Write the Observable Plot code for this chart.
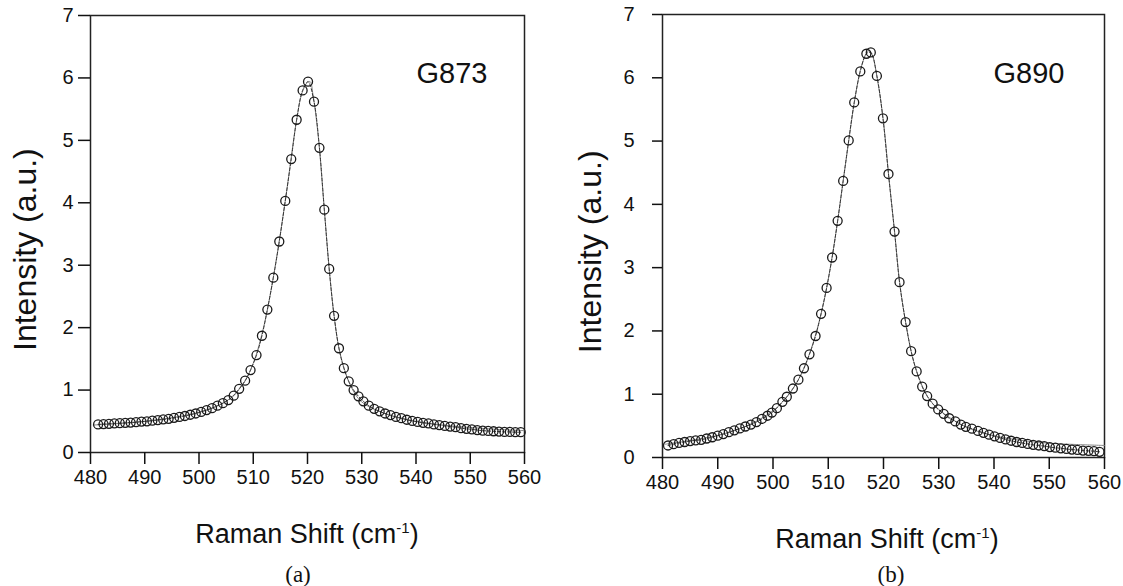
<!DOCTYPE html>
<html><head><meta charset="utf-8">
<script src="https://cdn.jsdelivr.net/npm/d3@7"></script>
<script src="https://cdn.jsdelivr.net/npm/@observablehq/plot@0.6"></script>
<style>
html,body{margin:0;padding:0;background:#fff;}
#wrap{position:relative;width:1123px;height:586px;overflow:hidden;font-family:"Liberation Sans",Arial,Helvetica,sans-serif;color:#111;background:#fff;}
.panel{position:absolute;top:0;}
#wrap svg [aria-label$="tick label"] text, #wrap svg [aria-label$="tick label"]{font-size:20px !important;}
.xlab{position:absolute;font-size:27px;line-height:27px;white-space:nowrap;transform:translateX(-50%);}
.xlab sup{font-size:15px;vertical-align:10px;line-height:0;}
.cap{position:absolute;font-family:"Liberation Serif","Times New Roman",serif;font-size:23px;line-height:23px;transform:translateX(-50%);}
</style></head><body><div id="wrap"></div>
<script>
const xTicks = [480, 490, 500, 510, 520, 530, 540, 550, 560];
const yTicks = [0, 1, 2, 3, 4, 5, 6, 7];
const sampleNames = ["G873", "G890"];
const panelLetters = ["(a)", "(b)"];
const yTitle = "Intensity (a.u.)";

// G873 measured points
const g873Shift = [481.4,482.4,483.4,484.4,485.4,486.4,487.4,488.4,489.4,490.4,491.4,492.4,493.4,494.4,495.4,496.4,497.4,498.4,499.4,500.4,501.4,502.4,503.4,504.4,505.4,506.4,
  507.4,508.5,509.5,510.6,511.6,512.6,513.7,514.8,515.9,517.0,518.0,519.1,520.1,521.2,522.2,523.1,524.0,524.9,525.8,526.7,527.6,528.5,529.4,530.3,531.3,
  532.3,533.3,534.3,535.3,536.3,537.3,538.3,539.3,540.3,541.3,542.3,543.3,544.3,545.3,546.3,547.3,548.3,549.3,550.3,551.3,552.3,553.3,554.3,555.3,556.3,557.3,558.3,559.3];
const g873Intensity = [0.45,0.455,0.46,0.465,0.47,0.475,0.48,0.485,0.495,0.50,0.51,0.52,0.53,0.54,0.555,0.57,0.585,0.605,0.625,0.65,0.68,0.71,0.75,0.79,0.84,0.91,
  1.02,1.15,1.32,1.56,1.87,2.29,2.80,3.38,4.03,4.70,5.33,5.80,5.94,5.62,4.88,3.89,2.94,2.19,1.67,1.35,1.14,1.00,0.90,0.82,0.75,
  0.70,0.66,0.625,0.60,0.57,0.55,0.525,0.505,0.49,0.475,0.465,0.45,0.44,0.425,0.415,0.405,0.39,0.38,0.37,0.36,0.35,0.345,0.34,0.335,0.33,0.33,0.325,0.325];
// G873 fitted curve
const g873FitShift = [480.5,490,500,505,508,510,512,514,516,518,519,520,520.5,521,522,523,524,525,526,528,530,535,540,545,550,555,560];
const g873FitIntensity = [0.44,0.50,0.645,0.82,1.08,1.43,2.04,2.96,4.09,5.33,5.76,5.93,5.94,5.74,5.05,4.00,2.94,2.12,1.59,1.06,0.81,0.60,0.50,0.44,0.40,0.37,0.35];

// G890 measured points
const g890Shift = [481.0,482.0,483.0,484.0,485.0,486.0,487.0,488.0,489.0,490.0,491.0,492.0,493.0,494.0,495.0,496.0,497.0,498.0,499.0,499.8,500.7,501.7,502.5,503.6,504.6,505.6,506.6,507.7,508.7,509.7,510.7,511.7,512.7,513.7,514.7,515.8,516.9,517.7,518.8,519.9,520.9,522.0,522.9,524.0,525.0,526.0,527.0,527.9,528.9,529.9,530.9,531.9,533.0,534.0,534.9,536.0,537.1,538.1,539.1,540.1,541.1,542.1,543.1,544.1,545.1,546.1,547.1,548.1,549.1,550.1,551.1,552.1,553.1,554.1,555.1,556.1,557.1,558.1,559.1];
const g890Intensity = [0.19,0.21,0.23,0.245,0.26,0.27,0.28,0.30,0.32,0.345,0.37,0.40,0.43,0.46,0.49,0.52,0.56,0.61,0.66,0.71,0.78,0.88,0.96,1.09,1.23,1.41,1.63,1.92,2.27,2.68,3.16,3.74,4.37,5.01,5.61,6.10,6.38,6.40,6.03,5.36,4.48,3.57,2.77,2.14,1.68,1.36,1.12,0.97,0.85,0.76,0.69,0.62,0.57,0.52,0.485,0.455,0.42,0.39,0.36,0.335,0.31,0.285,0.265,0.245,0.23,0.215,0.20,0.19,0.18,0.165,0.155,0.145,0.135,0.125,0.12,0.11,0.105,0.10,0.09];
// G890 fitted curve
const g890FitShift = [480.5,490,495,500,503,505,507,509,511,513,515,516,517,517.4,518,519,520,521,522,523,524,525,526,528,530,535,540,545,550,555,560];
const g890FitIntensity = [0.21,0.35,0.49,0.74,1.01,1.30,1.74,2.38,3.33,4.56,5.76,6.18,6.40,6.43,6.35,5.92,5.30,4.40,3.57,2.71,2.14,1.68,1.36,0.96,0.76,0.48,0.345,0.27,0.225,0.205,0.19];

const FONT = '"Liberation Sans", Arial, Helvetica, sans-serif';

function makePanel(o) {
  const pts = o.xs.map((x, i) => ({x, y: o.ys[i]}));
  const fit = o.fx.map((x, i) => ({x, y: o.fy[i]}));
  return Plot.plot({
    width: o.width, height: o.height,
    marginLeft: o.ml, marginRight: o.mr, marginTop: o.mt, marginBottom: o.mb,
    style: {fontFamily: FONT, fontSize: "20px", color: "#111", background: "#fff", overflow: "visible"},
    x: {domain: [480, 560]},
    y: {domain: [0, 7]},
    marks: [
      Plot.frame({stroke: "#222", strokeWidth: 1.5}),
      Plot.axisX({ticks: xTicks, tickSize: 12, tickPadding: 5, tickFormat: d => String(d), label: null, strokeWidth: 1.5, fontSize: 20}),
      Plot.axisY({ticks: yTicks, tickSize: o.tickSizeY, tickPadding: o.tickPadY, tickFormat: d => String(d), label: null, strokeWidth: 1.5, fontSize: 20}),
      Plot.line(fit, {x: "x", y: "y", stroke: "#888", strokeWidth: 1, curve: "catmull-rom"}),
      Plot.line(pts, {x: "x", y: "y", stroke: "#333", strokeWidth: 1, strokeDasharray: "3,2", curve: "catmull-rom"}),
      Plot.dot(pts, {x: "x", y: "y", r: 4.5, stroke: "#1a1a1a", strokeWidth: 1.3, fill: "none"}),
      Plot.text([o.name], {frameAnchor: "top-right", textAnchor: "end", lineAnchor: "middle", dx: o.nameDx, dy: o.nameDy, fontSize: 29, fill: "#111"}),
      Plot.text([yTitle], {y: 3.25, frameAnchor: "left", textAnchor: "middle", lineAnchor: "middle", rotate: -90, dx: o.yLabDx, fontSize: 32, fill: "#111"})
    ]
  });
}

const wrap = document.getElementById("wrap");
const panels = [
  {left: 0, width: 560, height: 500, ml: 90, mr: 36, mt: 15, mb: 48, tickSizeY: 12, tickPadY: 5,
   xs: g873Shift, ys: g873Intensity, fx: g873FitShift, fy: g873FitIntensity, name: sampleNames[0], nameDx: -37, nameDy: 58, yLabDx: -65,
   xlabX: 307, xlabY: 521, capX: 298, letter: panelLetters[0]},
  {left: 560, width: 563, height: 505, ml: 102, mr: 19, mt: 14, mb: 48, tickSizeY: 10, tickPadY: 18,
   xs: g890Shift, ys: g890Intensity, fx: g890FitShift, fy: g890FitIntensity, name: sampleNames[1], nameDx: -40, nameDy: 59, yLabDx: -72,
   xlabX: 887, xlabY: 526, capX: 891, letter: panelLetters[1]}
];
for (const p of panels) {
  const div = document.createElement("div");
  div.className = "panel";
  div.style.left = p.left + "px";
  div.appendChild(makePanel(p));
  wrap.appendChild(div);
  const xl = document.createElement("div");
  xl.className = "xlab";
  xl.style.left = p.xlabX + "px";
  xl.style.top = p.xlabY + "px";
  xl.innerHTML = "Raman Shift (cm<sup>-1</sup>)";
  wrap.appendChild(xl);
  const cap = document.createElement("div");
  cap.className = "cap";
  cap.style.left = p.capX + "px";
  cap.style.top = "563px";
  cap.textContent = p.letter;
  wrap.appendChild(cap);
}
</script></body></html>
